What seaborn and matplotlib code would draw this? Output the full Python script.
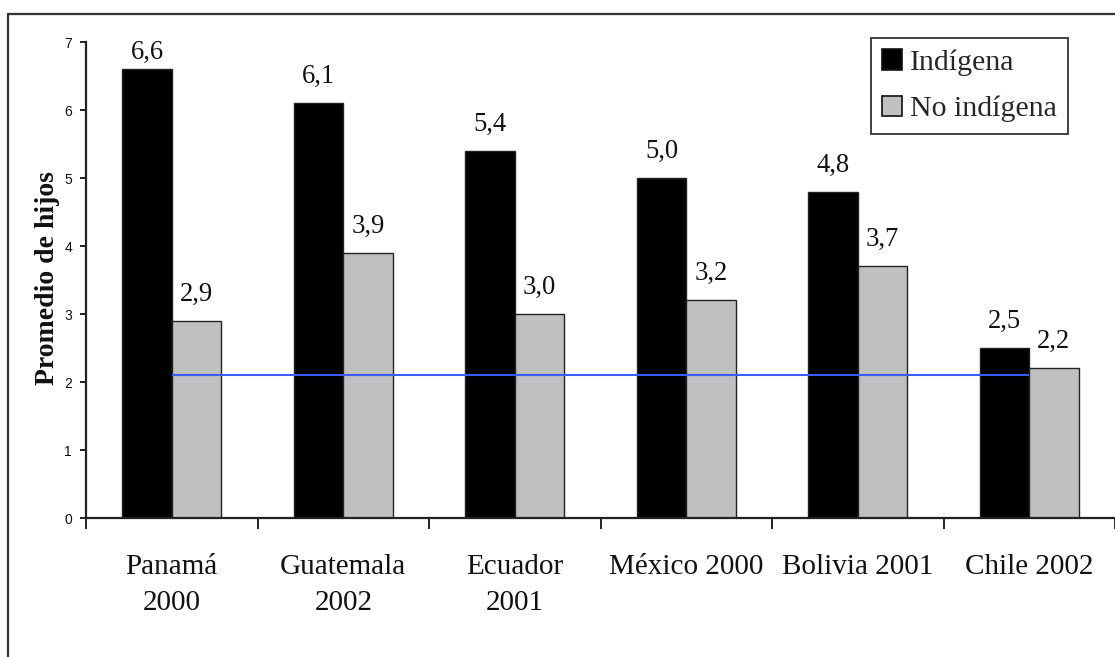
import matplotlib
matplotlib.use("Agg")
import matplotlib.pyplot as plt
from matplotlib.lines import Line2D
import seaborn as sns
import pandas as pd
import numpy as np

# Average number of children by census and ethnic group
paises = ["Panamá\n2000", "Guatemala\n2002", "Ecuador\n2001",
          "México 2000", "Bolivia 2001", "Chile 2002"]
indigena = [6.6, 6.1, 5.4, 5.0, 4.8, 2.5]
no_indigena = [2.9, 3.9, 3.0, 3.2, 3.7, 2.2]
grupos = ["Indígena", "No indígena"]
colores = ["#000000", "#c0c0c0"]
reemplazo = 2.1  # replacement-level fertility reference line
yticks = [0, 1, 2, 3, 4, 5, 6, 7]

df = pd.DataFrame({
    "pais": paises * 2,
    "grupo": [grupos[0]] * len(paises) + [grupos[1]] * len(paises),
    "valor": indigena + no_indigena,
})

sns.set_style("white")
plt.rcParams["font.family"] = ["Liberation Serif", "DejaVu Serif"]

W, H = 1115, 657
fig = plt.figure(figsize=(W / 100, H / 100), dpi=100)
ax = fig.add_axes([86 / W, 1 - 518 / H, (1115 - 86) / W, (518 - 42) / H])

sns.barplot(data=df, x="pais", y="valor", hue="grupo", order=paises,
            hue_order=grupos, palette=colores, width=0.575, gap=0,
            edgecolor="#222222", linewidth=1.0, saturation=1,
            errorbar=None, ax=ax, zorder=2)

ax.set_xlim(-0.5, len(paises) - 0.5)
ax.set_ylim(0, 7)

# reference line across the category centres
ax.hlines(reemplazo, 0, len(paises) - 1, color="#3a5cff", lw=1.5, zorder=5)

# value labels above each bar, kept inside the plot area
px_per_unit = (518 - 42) / 7.0
gap = 20 / px_per_unit
top_limit = 7 - 17 / px_per_unit
for cont in ax.containers:
    for rect in cont:
        v = rect.get_height()
        xc = rect.get_x() + rect.get_width() / 2
        yb = min(v + gap, top_limit)
        ax.text(xc, yb, f"{v:.1f}".replace(".", ","), ha="center",
                va="baseline", fontsize=19.2, color="#111111",
                family=["Liberation Serif"], clip_on=False, zorder=6)

# axes styling
for s in ["top", "right"]:
    ax.spines[s].set_visible(False)
for s in ["left", "bottom"]:
    ax.spines[s].set_color("#222222")
    ax.spines[s].set_linewidth(1.6)

ax.set_yticks(yticks)
ax.set_yticklabels([str(t) for t in yticks], family=["Liberation Sans"],
                   fontsize=10, color="#111111")
ax.tick_params(axis="y", direction="out", length=4, width=1.4,
               color="#222222", pad=6, left=True)

ax.set_xticks(range(len(paises)))
ax.set_xticklabels(paises, fontsize=21, color="#111111",
                   family=["Liberation Serif"], linespacing=1.5,
                   va="top")
ax.tick_params(axis="x", which="major", length=0, pad=26)
ax.set_xticks(np.arange(-0.5, len(paises)), minor=True)
ax.tick_params(axis="x", which="minor", direction="out", length=8,
               width=1.4, color="#222222", bottom=True)

ax.set_xlabel("")
ax.set_ylabel("Promedio de hijos", fontsize=20, fontweight="bold",
              family=["Liberation Serif"], color="#111111")
ax.yaxis.set_label_coords(60 / W, 1 - 278 / H, transform=fig.transFigure)

# legend box
leg = ax.legend(loc="upper right", bbox_to_anchor=(1068 / W, 1 - 38 / H),
                bbox_transform=fig.transFigure, borderaxespad=0,
                frameon=True, fancybox=False,
                handlelength=0.67, handleheight=0.67, handletextpad=0.25,
                borderpad=0.38, labelspacing=0.66,
                prop={"family": "Liberation Serif", "size": 21.5})
leg.get_frame().set_edgecolor("#111111")
leg.get_frame().set_linewidth(1.4)
for h in leg.legend_handles:
    h.set_edgecolor("#111111")
    h.set_linewidth(1.2)

# outer frame of the figure
fig.add_artist(Line2D([8 / W, 1], [1 - 14 / H, 1 - 14 / H],
                      transform=fig.transFigure, color="#333333", lw=1.6))
fig.add_artist(Line2D([8 / W, 8 / W], [0, 1 - 14 / H],
                      transform=fig.transFigure, color="#333333", lw=1.6))

fig.savefig("out.png", dpi=100)
